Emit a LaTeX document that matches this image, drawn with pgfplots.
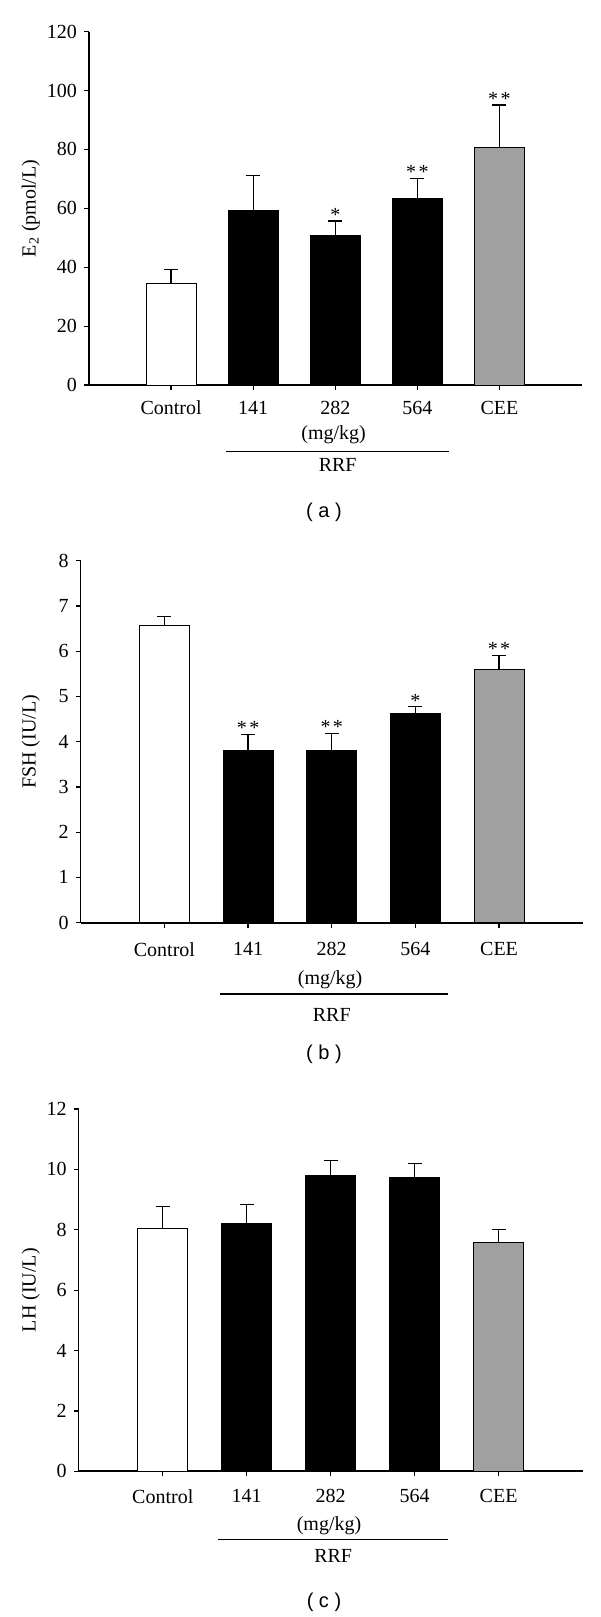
\documentclass[border=0pt]{standalone}
\usepackage{fontspec}
\setmainfont{Liberation Serif}
\newfontfamily\labsans{Liberation Sans}
\usepackage{pgfplots}
\pgfplotsset{compat=1.18}
\definecolor{ceegray}{RGB}{160,160,160}
\newcommand{\tfont}{\fontsize{10}{12}\selectfont}
\pgfplotsset{
  panel/.style={
    scale only axis,
    ybar, bar shift=0pt, bar width=25pt,
    axis x line*=bottom, axis y line*=left,
    axis line style={-},
    y axis line style={line width=0.6pt},
    x axis line style={line width=1pt},
    xmin=-1, xmax=5, ymin=0,
    xtick={0,1,2,3,4},
    xticklabels={Control,141,282,564,CEE},
    tick align=outside,
    major tick length=2.5pt,
    tick style={black, line width=0.6pt},
    clip=false,
    /pgf/number format/assume math mode=true,
    tick label style={font=\tfont},
    label style={font=\tfont},
  },
  eb/.style={
    error bars/.cd, y dir=plus, y explicit,
    error bar style={line width=0.6pt, black},
    error mark options={rotate=90, mark size=3.5pt, line width=0.6pt, black},
  },
  stars/.style={draw=none, fill=none, nodes near coords, point meta=explicit symbolic,
    nodes near coords style={anchor=south, inner sep=0pt, yshift=-0.3pt, font=\tfont}},
}
\begin{document}
\begin{tikzpicture}
\path[use as bounding box] (0,0) rectangle (300pt,-808.5pt);
% ---------- (a)
\begin{axis}[panel, at={(44.5pt,-192.5pt)}, anchor=south west,
  width=246.25pt, height=176.7pt,
  ymax=120, ytick={0,20,40,60,80,100,120},
  xticklabel style={yshift=-2pt},
  ylabel={E\textsubscript{2} (pmol/L)},
  ylabel style={at={(axis description cs:-0.118,0.5)}, anchor=center}]
\addplot[fill=white, draw=black, line width=0.5pt, eb] coordinates {(0,34.5) +- (0,4.8)};
\addplot[fill=black, draw=black, line width=0.5pt, eb] coordinates {(1,59.4) +- (0,11.8) (2,50.8) +- (0,4.9) (3,63.4) +- (0,6.8)};
\addplot[fill=ceegray, draw=black, line width=0.5pt, eb] coordinates {(4,80.8) +- (0,14.3)};
\addplot[stars] coordinates {(2,55.7)[*] (3,70.2)[*\hspace{1.2pt}*] (4,95.1)[*\hspace{1.2pt}*]};
\node[font=\tfont] at ([yshift=-25pt]axis cs:1.98,0) {(mg/kg)};
\draw[line width=0.6pt] ([yshift=-33.3pt]axis cs:0.67,0) -- ([yshift=-33.3pt]axis cs:3.39,0);
\node[font=\tfont] at ([yshift=-40pt]axis cs:2.03,0) {RRF};
\end{axis}
\node[font=\labsans\tfont] at (162pt,-256pt) {( a )};
% ---------- (b)
\begin{axis}[panel, at={(40.4pt,-461.3pt)}, anchor=south west,
  width=250.95pt, height=180.9pt,
  ymax=8, ytick={0,1,2,3,4,5,6,7,8},
  xticklabel style={yshift=-4pt},
  ylabel={FSH (IU/L)},
  ylabel style={at={(axis description cs:-0.0995,0.5)}, anchor=center}]
\addplot[fill=white, draw=black, line width=0.5pt, eb] coordinates {(0,6.57) +- (0,0.20)};
\addplot[fill=black, draw=black, line width=0.5pt, eb] coordinates {(1,3.80) +- (0,0.36) (2,3.81) +- (0,0.37) (3,4.62) +- (0,0.15)};
\addplot[fill=ceegray, draw=black, line width=0.5pt, eb] coordinates {(4,5.59) +- (0,0.31)};
\addplot[stars] coordinates {(1,4.16)[*\hspace{1.2pt}*] (2,4.18)[*\hspace{1.2pt}*] (3,4.77)[*] (4,5.90)[*\hspace{1.2pt}*]};
\node[font=\tfont] at ([yshift=-28.7pt]axis cs:1.98,0) {(mg/kg)};
\draw[line width=0.6pt] ([yshift=-35.7pt]axis cs:0.66,0) -- ([yshift=-35.7pt]axis cs:3.39,0);
\node[font=\tfont] at ([yshift=-46.2pt]axis cs:2.0,0) {RRF};
\end{axis}
\node[font=\labsans\tfont] at (162pt,-527pt) {( b )};
% ---------- (c)
\begin{axis}[panel, at={(39.4pt,-735.7pt)}, anchor=south west,
  width=251.9pt, height=181.25pt,
  ymax=12, ytick={0,2,4,6,8,10,12},
  xticklabel style={yshift=-3pt},
  ylabel={LH (IU/L)},
  ylabel style={at={(axis description cs:-0.095,0.5)}, anchor=center}]
\addplot[fill=white, draw=black, line width=0.5pt, eb] coordinates {(0,8.04) +- (0,0.72)};
\addplot[fill=black, draw=black, line width=0.5pt, eb] coordinates {(1,8.20) +- (0,0.64) (2,9.81) +- (0,0.49) (3,9.72) +- (0,0.48)};
\addplot[fill=ceegray, draw=black, line width=0.5pt, eb] coordinates {(4,7.57) +- (0,0.45)};
\node[font=\tfont] at ([yshift=-27.3pt]axis cs:1.98,0) {(mg/kg)};
\draw[line width=0.6pt] ([yshift=-34.1pt]axis cs:0.66,0) -- ([yshift=-34.1pt]axis cs:3.40,0);
\node[font=\tfont] at ([yshift=-42.2pt]axis cs:2.03,0) {RRF};
\end{axis}
\node[font=\labsans\tfont] at (162pt,-801pt) {( c )};
\end{tikzpicture}
\end{document}
